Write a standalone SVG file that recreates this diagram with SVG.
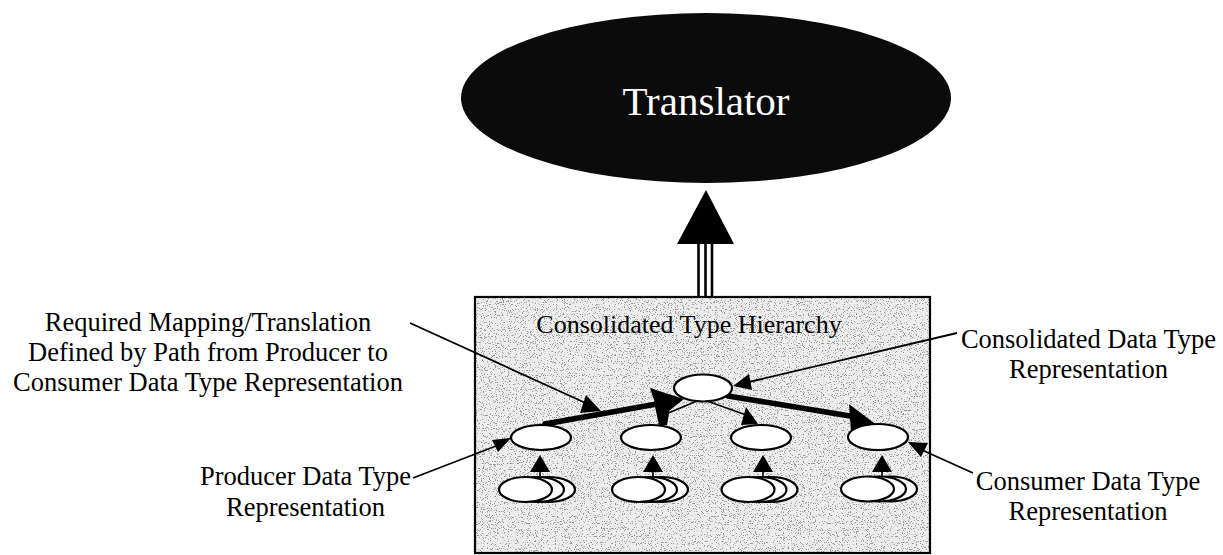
<svg xmlns="http://www.w3.org/2000/svg" xmlns:xlink="http://www.w3.org/1999/xlink" width="1223" height="555" viewBox="0 0 1223 555">
  <style>
    .lbl { font-family: "Liberation Serif", "Times New Roman", serif; font-size: 26.5px; fill: #000; text-anchor: middle; }
    .title { font-family: "Liberation Serif", "Times New Roman", serif; font-size: 26px; fill: #000; text-anchor: middle; }
    .big { font-family: "Liberation Serif", "Times New Roman", serif; font-size: 41px; fill: #fff; text-anchor: middle; }
    .node { fill: #fff; stroke: #000; stroke-width: 2.2; }
    .faint .node { stroke: #666; stroke-width: 1.6; }
    .thin { fill: none; stroke: #000; stroke-width: 1.8; }
    .bold { fill: none; stroke: #000; stroke-width: 5.5; stroke-linecap: round; }
    .head { fill: #000; stroke: none; }
  </style>
  <defs>
    <!-- stipple used inside the hierarchy frame -->
    <filter id="speckle" x="0" y="0" width="100%" height="100%">
      <feTurbulence type="fractalNoise" baseFrequency="0.85" numOctaves="2" seed="7"/>
      <feColorMatrix type="matrix" values="0 0 0 0 0.3  0 0 0 0 0.3  0 0 0 0 0.3  -12 0 0 0 4.9"/>
    </filter>
    <!-- stack of three overlapping instance ellipses -->
    <g id="stack">
      <ellipse class="node" cx="23" cy="0" rx="26.5" ry="12.5"/>
      <ellipse class="node" cx="12" cy="0" rx="26.5" ry="12.5"/>
      <ellipse class="node" cx="0" cy="0" rx="26.5" ry="12.5"/>
    </g>
    <!-- small upward arrow from an instance stack to its type node -->
    <g id="up">
      <polygon class="head" points="0,0 -10,17 10,17"/>
      <line x1="0" y1="16" x2="0" y2="22" stroke="#000" stroke-width="1.6"/>
    </g>
  </defs>

  <rect width="1223" height="555" fill="#fff"/>

  <!-- Translator -->
  <g id="translator">
    <ellipse cx="706" cy="98" rx="245" ry="85" fill="#0b0b0b"/>
    <text class="big" x="706" y="115">Translator</text>
  </g>

  <!-- Consolidated type hierarchy frame -->
  <g id="hierarchy">
    <rect x="475" y="297" width="455" height="256" fill="#ededed"/>
    <rect x="476" y="298" width="453" height="254" fill="#000" filter="url(#speckle)"/>
    <rect x="475" y="297" width="455" height="256" fill="none" stroke="#000" stroke-width="2.2"/>
    <text class="title" x="689" y="333">Consolidated Type Hierarchy</text>
  </g>

  <!-- Connectors -->
  <g id="connectors">
    <!-- translator feed: triple shaft and head -->
    <line x1="698.5" y1="243" x2="698.5" y2="297" stroke="#000" stroke-width="2.6"/>
    <line x1="705.5" y1="243" x2="705.5" y2="297" stroke="#000" stroke-width="2.6"/>
    <line x1="712" y1="243" x2="712" y2="297" stroke="#000" stroke-width="2.6"/>
    <polygon class="head" points="706,190 677,244 734,244"/>

    <!-- hierarchy edges -->
    <line class="thin" x1="697" y1="401" x2="666" y2="414"/>
    <line class="thin" x1="707" y1="401" x2="749" y2="416"/>
    <polygon class="head" points="746,407 758,424 741,425"/>
    <polygon class="head" points="654,402 671,402 667,425 659,425"/>

    <!-- bold mapping path: producer -> consolidated -> consumer -->
    <line class="bold" x1="545" y1="424" x2="668" y2="402"/>
    <polygon class="head" points="650,388 684,399 660,418"/>
    <line class="bold" x1="728" y1="396" x2="856" y2="417"/>
    <polygon class="head" points="849,404 878,426 851,432"/>

    <!-- instance stacks to type nodes -->
    <use xlink:href="#up" x="540" y="455"/>
    <use xlink:href="#up" x="653" y="455"/>
    <use xlink:href="#up" x="763" y="455"/>
    <use xlink:href="#up" x="882" y="455"/>

    <!-- label pointers -->
    <line class="thin" x1="410" y1="323" x2="590" y2="405"/>
    <polygon class="head" points="586,395 601,411 580,413"/>
    <path class="thin" d="M413 478 Q452 463 496 446"/>
    <polygon class="head" points="511,438 498,452 492,440"/>
    <line class="thin" x1="957" y1="333" x2="749" y2="382"/>
    <polygon class="head" points="733,386 752,390 749,374"/>
    <line class="thin" x1="973" y1="473" x2="922" y2="450"/>
    <polygon class="head" points="908,442 928,443 921,457"/>
  </g>

  <!-- Type nodes -->
  <g id="node-consolidated"><ellipse class="node" cx="703" cy="388" rx="29" ry="13.5"/></g>
  <g id="node-producer"><ellipse class="node" cx="541" cy="437.5" rx="30" ry="12.5"/></g>
  <g id="node-type-b"><ellipse class="node" cx="651" cy="437.5" rx="30" ry="12.5"/></g>
  <g id="node-type-c"><ellipse class="node" cx="761" cy="437.5" rx="30" ry="12.5"/></g>
  <g id="node-consumer"><ellipse class="node" cx="878" cy="437" rx="30" ry="13"/></g>

  <!-- Instance stacks -->
  <g id="instances-producer"><use xlink:href="#stack" x="525.5" y="489.5"/></g>
  <g id="instances-b"><use xlink:href="#stack" x="638.5" y="489.5"/></g>
  <g id="instances-c" class="faint"><use xlink:href="#stack" x="748" y="489.5"/></g>
  <g id="instances-consumer"><use xlink:href="#stack" x="867.5" y="489"/></g>

  <!-- Labels -->
  <g id="label-mapping">
    <text class="lbl" x="208" y="331">Required Mapping/Translation</text>
    <text class="lbl" x="208" y="361">Defined by Path from Producer to</text>
    <text class="lbl" x="208" y="391">Consumer Data Type Representation</text>
  </g>
  <g id="label-producer">
    <text class="lbl" x="305.5" y="485">Producer Data Type</text>
    <text class="lbl" x="305.5" y="516">Representation</text>
  </g>
  <g id="label-consolidated">
    <text class="lbl" x="1088.5" y="348">Consolidated Data Type</text>
    <text class="lbl" x="1088.5" y="378">Representation</text>
  </g>
  <g id="label-consumer">
    <text class="lbl" x="1088" y="490">Consumer Data Type</text>
    <text class="lbl" x="1088" y="520">Representation</text>
  </g>
</svg>
